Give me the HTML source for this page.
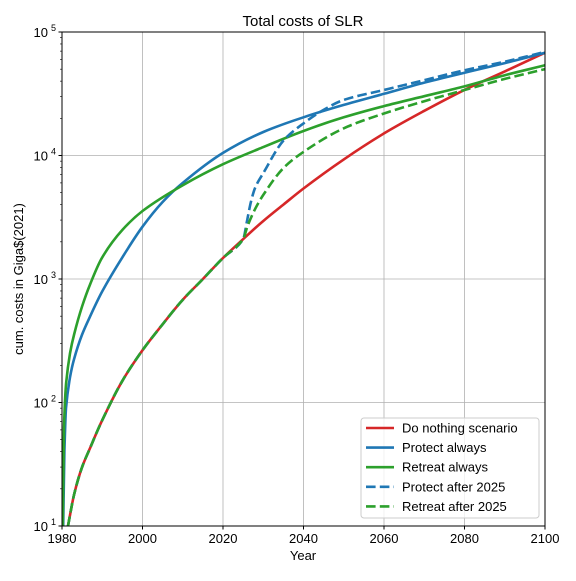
<!DOCTYPE html>
<html><head><meta charset="utf-8"><style>
body{margin:0;background:#fff}
svg{font-family:"Liberation Sans","DejaVu Sans",sans-serif}
</style></head><body>
<svg id="c" width="576" height="576" viewBox="0 0 576 576">
<rect width="576" height="576" fill="#fff"/>
<g id="grid"></g><g id="ticks"></g><g id="series"></g>
<rect x="62" y="32" width="483" height="494" fill="none" stroke="#000" stroke-width="1"/>
<text x="303" y="26" font-size="15" text-anchor="middle">Total costs of SLR</text>
<text x="303" y="560" font-size="13" text-anchor="middle">Year</text>
<text transform="translate(23,279) rotate(-90)" font-size="13" text-anchor="middle">cum. costs in Giga$(2021)</text>
<g id="legend"></g>
</svg>
<script>
const xTicks=[1980,2000,2020,2040,2060,2080,2100];
const yExp=[1,2,3,4,5];
const redYears=[1981.5,1983,1985,1987,1990,1995,2000,2005,2010,2015,2020,2025,2030,2035,2040,2050,2060,2070,2080,2090,2100];
const redVals=[10,18,30,43,72,150,265,430,680,1000,1480,2100,2950,4000,5400,9300,15100,23000,34000,48000,68000];
const blueYears=[1980.3,1980.6,1981,1982,1983,1985,1987,1990,1995,2000,2005,2010,2020,2030,2040,2050,2060,2070,2080,2090,2100];
const blueVals=[10,40,90,160,225,355,500,795,1500,2650,4200,6000,10500,15500,20400,25700,31600,38900,46800,56000,68000];
const greenYears=[1980.2,1980.5,1981,1982,1983,1985,1987,1990,1995,2000,2010,2020,2030,2040,2050,2060,2070,2080,2090,2100];
const greenVals=[10,63,140,250,355,600,910,1500,2500,3550,5750,8500,11700,15800,20400,25100,30200,36300,44700,53700];
const pa25Years=[1981.5,1983,1985,1987,1990,1995,2000,2005,2010,2015,2020,2025,2026,2027,2028,2030,2035,2040,2045,2050,2060,2070,2080,2090,2100];
const pa25Vals=[10,18,30,43,72,150,265,430,680,1000,1480,2100,3000,4300,5500,7200,13200,18200,23400,28200,33900,40700,49000,57500,69000];
const ra25Years=[1981.5,1983,1985,1987,1990,1995,2000,2005,2010,2015,2020,2025,2026,2027,2028,2030,2035,2040,2050,2060,2070,2080,2090,2100];
const ra25Vals=[10,18,30,43,72,150,265,430,680,1000,1480,2100,2630,3160,3700,4800,7900,10700,16600,21900,27500,33900,41700,50100];
const X0=62,X1=545,Y0=526,Y1=32;
const xs=y=>X0+(y-1980)/120*(X1-X0);
const ys=v=>Y0-(Math.log10(v)-1)/4*(Y0-Y1);
const NS="http://www.w3.org/2000/svg";
function mk(t,a,p){const e=document.createElementNS(NS,t);for(const k in a)e.setAttribute(k,a[k]);p.appendChild(e);return e;}
const grid=document.getElementById('grid'),ticks=document.getElementById('ticks'),ser=document.getElementById('series');
xTicks.forEach(t=>{const x=xs(t);
 const g=mk('line',{x1:x,x2:x,y1:Y1,y2:Y0,stroke:'#b0b0b0','stroke-width':0.8},grid);
 
 
 mk('line',{x1:x,x2:x,y1:Y0,y2:Y0+3.5,stroke:'#000'},ticks);
 const l=mk('text',{x:x,y:Y0+17,'font-size':13,'text-anchor':'middle'},ticks);l.textContent=t;
 
 
});
yExp.forEach(e=>{const y=ys(Math.pow(10,e));
 const g=mk('line',{x1:X0,x2:X1,y1:y,y2:y,stroke:'#b0b0b0','stroke-width':0.8},grid);
 
 
 mk('line',{x1:X0-3.5,x2:X0,y1:y,y2:y,stroke:'#000'},ticks);
 const l=mk('text',{x:X0-14,y:y+5,'font-size':13,'text-anchor':'end'},ticks);l.textContent='10';
 
 
 const s=mk('text',{x:X0-6,y:y-1,'font-size':9,'text-anchor':'end'},ticks);s.textContent=e;
 if(e<5)for(let m=2;m<10;m++){const yy=ys(m*Math.pow(10,e));mk('line',{x1:X0-2,x2:X0,y1:yy,y2:yy,stroke:'#000','stroke-width':0.6},ticks);}
});
function smoothPath(px,py){
 const n=px.length,d=[],m=new Array(n);
 for(let i=0;i<n-1;i++)d.push((py[i+1]-py[i])/(px[i+1]-px[i]));
 m[0]=d[0];m[n-1]=d[n-2];
 for(let i=1;i<n-1;i++){m[i]=(d[i-1]*d[i]<=0)?0:2/(1/d[i-1]+1/d[i]);}
 let s='M'+px[0].toFixed(1)+','+py[0].toFixed(1);
 for(let i=0;i<n-1;i++){const h=(px[i+1]-px[i])/3;
  s+='C'+(px[i]+h).toFixed(1)+','+(py[i]+m[i]*h).toFixed(1)+' '+(px[i+1]-h).toFixed(1)+','+(py[i+1]-m[i+1]*h).toFixed(1)+' '+px[i+1].toFixed(1)+','+py[i+1].toFixed(1);}
 return s;
}
function line(xa,va,col,dash,name){
 const d=smoothPath(xa.map(xs),va.map(ys));
 const p=mk('path',{d:d,fill:'none',stroke:col,'stroke-width':2.6,'stroke-dasharray':dash||'none','stroke-linejoin':'round'},ser);
 
 
}
line(redYears,redVals,'#d62728',null,'do-nothing-line');
line(blueYears,blueVals,'#1f77b4',null,'protect-always-line');
line(greenYears,greenVals,'#2ca02c',null,'retreat-always-line');
line(pa25Years,pa25Vals,'#1f77b4','9.6,4.2','protect-after-2025-line');
line(ra25Years,ra25Vals,'#2ca02c','9.6,4.2','retreat-after-2025-line');
const lg=document.getElementById('legend');
mk('rect',{x:361,y:418,width:178,height:100,rx:3,fill:'#fff','fill-opacity':0.8,stroke:'#ccc'},lg);
const entries=[['Do nothing scenario','#d62728',null],['Protect always','#1f77b4',null],['Retreat always','#2ca02c',null],['Protect after 2025','#1f77b4','9.6,4.2'],['Retreat after 2025','#2ca02c','9.6,4.2']];
entries.forEach((en,i)=>{const y=428+i*19.6;
 const g=mk('g',{},lg);
 
 
 mk('line',{x1:366,x2:394,y1:y,y2:y,stroke:en[1],'stroke-width':2.6,'stroke-dasharray':en[2]||'none'},g);
 const t=mk('text',{x:402,y:y+4.5,'font-size':13},g);t.textContent=en[0];
});
</script>
</body></html>
